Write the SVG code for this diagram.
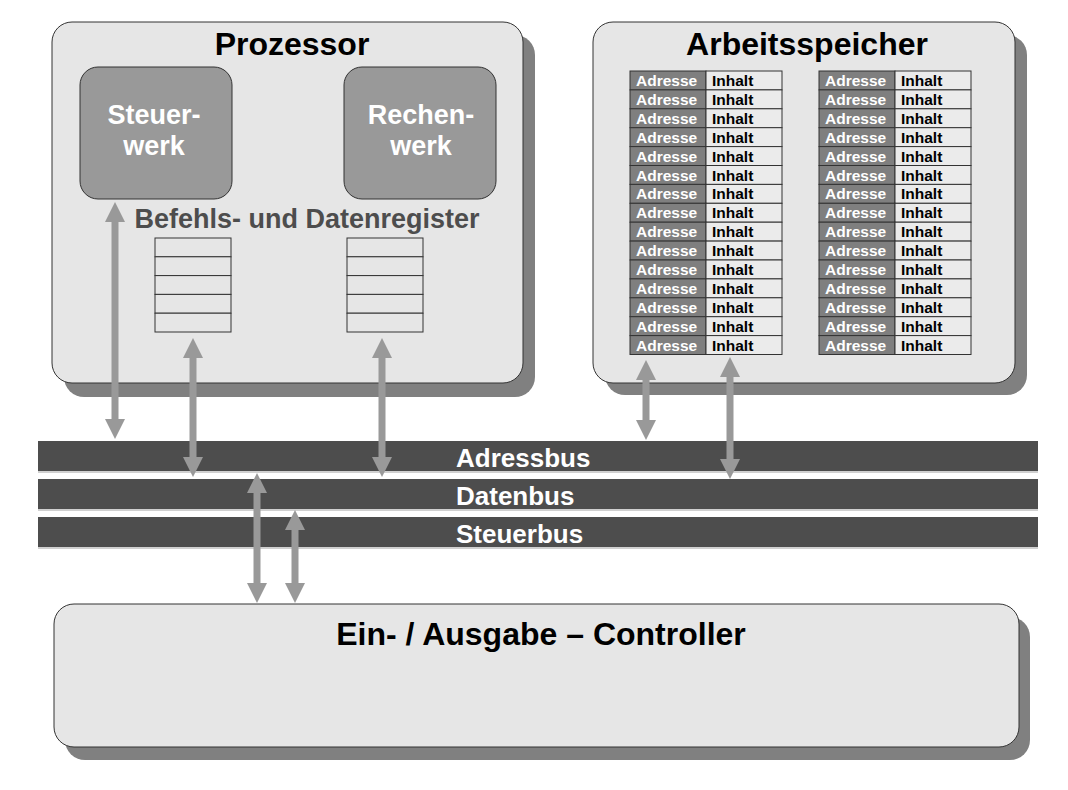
<svg xmlns="http://www.w3.org/2000/svg" width="1068" height="790" viewBox="0 0 1068 790">
<style>
text{font-family:"Liberation Sans",Arial,Helvetica,sans-serif;font-weight:bold}
.box{fill:#e6e6e6;stroke:#333;stroke-width:1}
.shadow{fill:#808080}
.unit{fill:#999;stroke:#333;stroke-width:1}
.title{font-size:32px;fill:#000;text-anchor:middle}
.unitText{font-size:27px;fill:#fff;text-anchor:middle}
.reg{fill:#e6e6e6;stroke:#333;stroke-width:1}
.adr{fill:#7f7f7f;stroke:#333;stroke-width:1}
.inh{fill:#ebebeb;stroke:#333;stroke-width:1}
.adrT{font-size:15.5px;fill:#fff}
.inhT{font-size:15.5px;fill:#000}
.bus{fill:#4d4d4d}
.busLine{fill:#d0d0d0}
.busT{font-size:26px;fill:#fff}
.arrow{fill:#999}
</style>
<defs>
<g id="memrow">
<rect class="adr" x="0" y="0" width="76" height="18.9"/>
<rect class="inh" x="76" y="0" width="76" height="18.9"/>
<text class="adrT" x="6" y="15">Adresse</text>
<text class="inhT" x="82" y="15">Inhalt</text>
</g>
<g id="memcol">
<use href="#memrow" y="0"/>
<use href="#memrow" y="18.9"/>
<use href="#memrow" y="37.8"/>
<use href="#memrow" y="56.7"/>
<use href="#memrow" y="75.6"/>
<use href="#memrow" y="94.5"/>
<use href="#memrow" y="113.4"/>
<use href="#memrow" y="132.3"/>
<use href="#memrow" y="151.2"/>
<use href="#memrow" y="170.1"/>
<use href="#memrow" y="189"/>
<use href="#memrow" y="207.9"/>
<use href="#memrow" y="226.8"/>
<use href="#memrow" y="245.7"/>
<use href="#memrow" y="264.6"/>
</g>
<g id="regstack">
<rect class="reg" x="0" y="0" width="76" height="18.8"/>
<rect class="reg" x="0" y="18.8" width="76" height="18.8"/>
<rect class="reg" x="0" y="37.6" width="76" height="18.8"/>
<rect class="reg" x="0" y="56.4" width="76" height="18.8"/>
<rect class="reg" x="0" y="75.2" width="76" height="18.8"/>
</g>
</defs>
<rect x="0" y="0" width="1068" height="790" fill="#fff"/>

<g id="prozessor">
<rect class="shadow" x="64" y="35" width="471" height="362" rx="20"/>
<rect class="box" x="52" y="22" width="471" height="361" rx="20"/>
<text class="title" x="292" y="55">Prozessor</text>
</g>
<g id="steuerwerk">
<rect class="unit" x="80" y="67" width="152" height="132" rx="18"/>
<text class="unitText" x="154" y="124">Steuer-</text>
<text class="unitText" x="154" y="155">werk</text>
</g>
<g id="rechenwerk">
<rect class="unit" x="344" y="67" width="152" height="132" rx="18"/>
<text class="unitText" x="421" y="124">Rechen-</text>
<text class="unitText" x="421" y="155">werk</text>
</g>
<g id="register">
<text x="307" y="228" font-size="27" fill="#4d4d4d" text-anchor="middle">Befehls- und Datenregister</text>
<use href="#regstack" x="155" y="238"/>
<use href="#regstack" x="347" y="238"/>
</g>

<g id="arbeitsspeicher">
<rect class="shadow" x="605" y="35" width="422" height="360" rx="20"/>
<rect class="box" x="593" y="22" width="422" height="361" rx="20"/>
<text class="title" x="807" y="55">Arbeitsspeicher</text>
<use href="#memcol" x="630" y="71"/>
<use href="#memcol" x="819" y="71"/>
</g>

<g id="busse">
<rect class="bus" x="38" y="441" width="1000" height="30"/>
<rect class="busLine" x="38" y="471" width="1000" height="2"/>
<rect class="bus" x="38" y="479" width="1000" height="30"/>
<rect class="busLine" x="38" y="509" width="1000" height="2"/>
<rect class="bus" x="38" y="517" width="1000" height="30"/>
<rect class="busLine" x="38" y="547" width="1000" height="2"/>
<text class="busT" x="456" y="467">Adressbus</text>
<text class="busT" x="456" y="505">Datenbus</text>
<text class="busT" x="456" y="543">Steuerbus</text>
</g>

<g id="controller">
<rect class="shadow" x="65" y="617" width="965" height="143" rx="20"/>
<rect class="box" x="54" y="604" width="965" height="143" rx="20"/>
<text class="title" x="541" y="645">Ein- / Ausgabe – Controller</text>
</g>

<g id="connectors">
<polygon class="arrow" points="115,202 125,222 118.5,222 118.5,419 125,419 115,439 105,419 111.5,419 111.5,222 105,222"/>
<polygon class="arrow" points="193,338 203,358 196.5,358 196.5,457 203,457 193,477 183,457 189.5,457 189.5,358 183,358"/>
<polygon class="arrow" points="382,338 392,358 385.5,358 385.5,457 392,457 382,477 372,457 378.5,457 378.5,358 372,358"/>
<polygon class="arrow" points="646,360 656,380 649.5,380 649.5,420 656,420 646,440 636,420 642.5,420 642.5,380 636,380"/>
<polygon class="arrow" points="730,357 740,377 733.5,377 733.5,459 740,459 730,479 720,459 726.5,459 726.5,377 720,377"/>
<polygon class="arrow" points="257,473 267,493 260.5,493 260.5,583 267,583 257,603 247,583 253.5,583 253.5,493 247,493"/>
<polygon class="arrow" points="295,510 305,530 298.5,530 298.5,583 305,583 295,603 285,583 291.5,583 291.5,530 285,530"/>
</g>
</svg>
